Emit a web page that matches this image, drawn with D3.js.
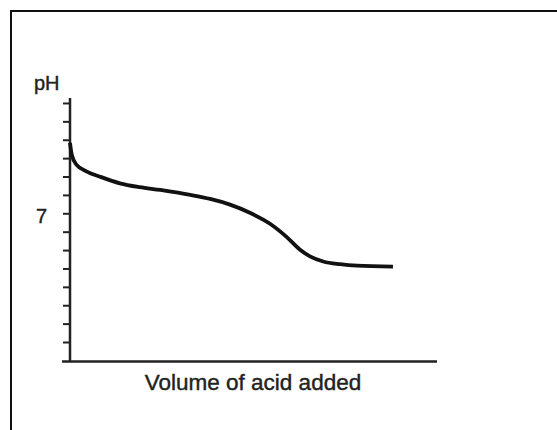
<!DOCTYPE html>
<html>
<head>
<meta charset="utf-8">
<script src="https://cdn.jsdelivr.net/npm/d3@7"></script>
<style>
  html, body { margin: 0; padding: 0; background: #fff; }
  svg { display: block; font-family: "Liberation Sans", Arial, sans-serif; }
</style>
</head>
<body>
<svg id="chart"></svg>
<script>
const width = 557;
const height = 430;

// volume of acid added (arbitrary units) and pH
const volume = [0, 0.25, 0.9, 2.3, 4.1, 6.8, 9.5, 12.3, 14.7, 16.4, 19.1, 21.8, 24.5, 27.3, 29.5, 31.3, 32.7, 34.5, 36.8, 39.1, 44.0];
const pH     = [10.83, 10.17, 9.63, 9.27, 8.99, 8.63, 8.42, 8.27, 8.12, 8.0, 7.78, 7.47, 7.03, 6.42, 5.72, 5.03, 4.66, 4.38, 4.23, 4.15, 4.1];

const yTicks = d3.range(0, 14);
const yTickLabels = {7: '7'};

const svg = d3.select('#chart')
  .attr('width', width)
  .attr('height', height);

// frame, only left and top edges are visible
svg.append('rect')
  .attr('x', 11)
  .attr('y', 11)
  .attr('width', width + 20)
  .attr('height', height + 20)
  .attr('fill', 'none')
  .attr('stroke', '#111')
  .attr('stroke-width', 2);

const x = d3.scaleLinear()
  .domain([0, 50])
  .range([70, 437]);

const y = d3.scaleLinear()
  .domain([-1.06, 13.27])
  .range([361.5, 98]);

const yAxis = svg.append('g')
  .attr('transform', `translate(${x(0)},0)`)
  .call(d3.axisLeft(y)
    .tickValues(yTicks)
    .tickSize(7)
    .tickFormat(d => yTickLabels[d] || ''));

yAxis.select('.domain').remove();
yAxis.selectAll('.tick line')
  .attr('stroke', '#222')
  .attr('stroke-width', 2);
yAxis.selectAll('.tick text')
  .attr('x', -23)
  .attr('dy', '0.45em')
  .attr('font-size', 20)
  .attr('fill', '#222')
  .attr('stroke', '#222')
  .attr('stroke-width', 0.4);

// axis lines
svg.append('line')
  .attr('x1', x(0)).attr('x2', x(0))
  .attr('y1', y.range()[1]).attr('y2', y.range()[0])
  .attr('stroke', '#222')
  .attr('stroke-width', 2.5);

svg.append('line')
  .attr('x1', x(0) - 8).attr('x2', x.range()[1])
  .attr('y1', y.range()[0]).attr('y2', y.range()[0])
  .attr('stroke', '#222')
  .attr('stroke-width', 2.5);

const line = d3.line()
  .x((d, i) => x(volume[i]))
  .y(d => y(d))
  .curve(d3.curveMonotoneX);

svg.append('path')
  .datum(pH)
  .attr('d', line)
  .attr('fill', 'none')
  .attr('stroke', '#111')
  .attr('stroke-width', 3.8);

svg.append('text')
  .attr('x', 34)
  .attr('y', 90)
  .attr('font-size', 20)
  .attr('fill', '#222')
  .attr('stroke', '#222')
  .attr('stroke-width', 0.4)
  .text('pH');

svg.append('text')
  .attr('x', 253)
  .attr('y', 390)
  .attr('text-anchor', 'middle')
  .attr('font-size', 22.5)
  .attr('fill', '#222')
  .attr('stroke', '#222')
  .attr('stroke-width', 0.4)
  .text('Volume of acid added');
</script>
</body>
</html>
